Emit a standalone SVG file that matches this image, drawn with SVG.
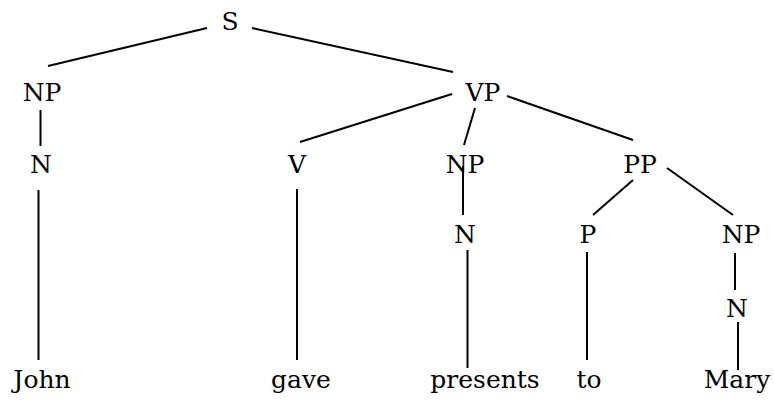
<svg xmlns="http://www.w3.org/2000/svg" width="774" height="400" viewBox="0 0 774 400">
  <style>
    .edges line { stroke: #000; stroke-width: 2; stroke-linecap: butt; }
    .lbl { font-family: "DejaVu Serif", serif; font-size: 25px; fill: #000; text-anchor: middle; }
  </style>
  <rect width="774" height="400" fill="#fff"/>

  <!-- tree edges -->
  <g id="edges" class="edges">
    <line x1="207" y1="28" x2="48" y2="66"/>
    <line x1="252" y1="28" x2="453" y2="72"/>
    <line x1="40.5" y1="110" x2="40.5" y2="146"/>
    <line x1="38.5" y1="190" x2="38.5" y2="360"/>
    <line x1="452" y1="94" x2="300" y2="142"/>
    <line x1="475" y1="108" x2="464" y2="145"/>
    <line x1="507" y1="96" x2="633" y2="140"/>
    <line x1="297" y1="189" x2="297" y2="360"/>
    <line x1="463" y1="166" x2="463" y2="215"/>
    <line x1="467.5" y1="250" x2="467.5" y2="368"/>
    <line x1="633" y1="180" x2="593" y2="215"/>
    <line x1="667" y1="168" x2="733" y2="215"/>
    <line x1="587" y1="252" x2="587" y2="360"/>
    <line x1="735" y1="253" x2="735" y2="290"/>
    <line x1="738" y1="322" x2="738" y2="370"/>
  </g>

  <!-- nodes -->
  <g id="S"><text class="lbl" x="230" y="30">S</text></g>
  <g id="NP1"><text class="lbl" x="42" y="101">NP</text></g>
  <g id="VP"><text class="lbl" x="483" y="101">VP</text></g>
  <g id="N1"><text class="lbl" x="41" y="173">N</text></g>
  <g id="V"><text class="lbl" x="297" y="173">V</text></g>
  <g id="NP2"><text class="lbl" x="465" y="173">NP</text></g>
  <g id="PP"><text class="lbl" x="640" y="173">PP</text></g>
  <g id="N2"><text class="lbl" x="465" y="243">N</text></g>
  <g id="P"><text class="lbl" x="588" y="243">P</text></g>
  <g id="NP3"><text class="lbl" x="741" y="243">NP</text></g>
  <g id="N3"><text class="lbl" x="737" y="317">N</text></g>
  <g id="John"><text class="lbl" x="42" y="388">John</text></g>
  <g id="gave"><text class="lbl" x="301" y="388">gave</text></g>
  <g id="presents"><text class="lbl" x="485" y="388">presents</text></g>
  <g id="to"><text class="lbl" x="589" y="388">to</text></g>
  <g id="Mary"><text class="lbl" x="737" y="388">Mary</text></g>
</svg>
